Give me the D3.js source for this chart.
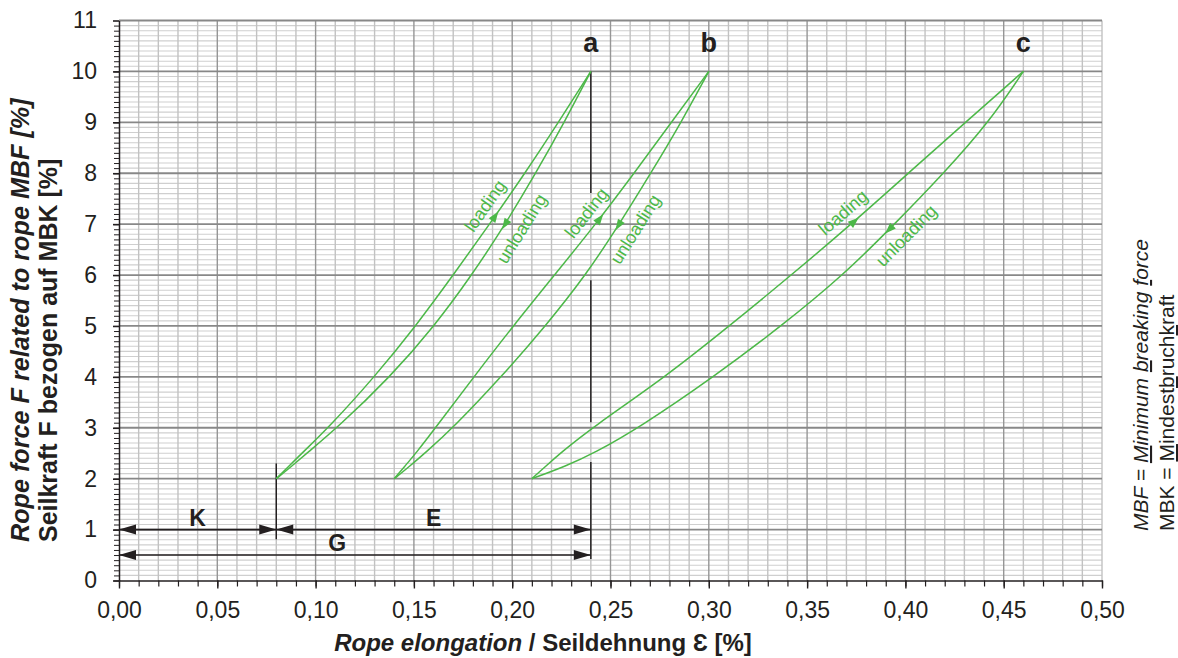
<!DOCTYPE html>
<html>
<head>
<meta charset="utf-8">
<script src="https://cdn.jsdelivr.net/npm/d3@7"></script>
<style>
  body { margin: 0; background: #fff; }
  svg { display: block; font-family: "Liberation Sans", Arial, Helvetica, sans-serif; }
</style>
</head>
<body>
<div id="chart"><svg></svg></div>
<script>
// force levels (% of MBF) at which the elongation of each curve was read
const forceLevels = [2, 2.25, 2.5, 3, 4, 5, 6, 7, 8, 9, 10];

// rope elongation [%] for each loop
const loadingA   = [0.080, 0.0865, 0.093, 0.1065, 0.130, 0.151, 0.170, 0.1885, 0.2065, 0.2235, 0.240];
const unloadingA = [0.080, 0.088, 0.0955, 0.111, 0.138, 0.1605, 0.1795, 0.1965, 0.212, 0.2265, 0.240];
const loadingB   = [0.140, 0.1455, 0.151, 0.161, 0.1805, 0.2005, 0.2215, 0.2425, 0.262, 0.281, 0.300];
const unloadingB = [0.140, 0.148, 0.1555, 0.170, 0.1945, 0.217, 0.2375, 0.2545, 0.2705, 0.286, 0.300];
const loadingC   = [0.210, 0.2172, 0.2244, 0.2405, 0.278, 0.3105, 0.342, 0.3725, 0.4015, 0.4305, 0.460];
const unloadingC = [0.210, 0.2275, 0.2415, 0.2645, 0.3025, 0.337, 0.3685, 0.3945, 0.4195, 0.4425, 0.460];

const loopNames = ["a", "b", "c"];
const loadArrowF = [7.15, 7.1, 7.05];
const unloadArrowF = [7.0, 6.98, 6.9];
const loadLabelF = [7.2, 7.05, 7.02];
const unloadLabelF = [7.08, 7.07, 7.0];

// dimension arrows K / E / G
const dimNames = ["K", "E", "G"];
const dimFrom = [0, 0.08, 0];
const dimTo = [0.08, 0.24, 0.24];
const dimLevel = [1, 1, 0.5];
const dimLabelX = [0.04, 0.16, 0.111];

// reference lines
const refLineA = [[0.42, 2.33], [3.11, 5.9], [7.61, 10]]; // at x = 0.24, with gaps
const refLineK = [[0.81, 2.3]];                           // at x = 0.08

const xTicks = d3.range(0, 0.501, 0.05);
const yTicks = d3.range(0, 12, 1);

const W = 1178, H = 658;
const svg = d3.select("#chart > svg").attr("width", W).attr("height", H);

const x = d3.scaleLinear().domain([0, 0.5]).range([119, 1102]);
const y = d3.scaleLinear().domain([0, 11]).range([580.5, 20.5]);

const green = "#4cb848";
const ink = "#231f20";

// grid
const grid = svg.append("g");
grid.selectAll(".hminor")
  .data(d3.range(0, 111).filter(i => i % 10 !== 0).map(i => i / 10))
  .join("line")
  .attr("x1", x(0)).attr("x2", x(0.5))
  .attr("y1", d => y(d)).attr("y2", d => y(d))
  .attr("stroke", "#cfcfcf").attr("stroke-width", 1.1);

grid.selectAll(".vminor")
  .data(d3.range(1, 51).map(i => ({ v: i / 100, major: i % 5 === 0 && i < 50 })))
  .join("line")
  .attr("x1", d => x(d.v)).attr("x2", d => x(d.v))
  .attr("y1", y(0)).attr("y2", y(11))
  .attr("stroke", d => d.major ? "#969696" : "#c2c2c2")
  .attr("stroke-width", 1.4);

grid.selectAll(".hmajor")
  .data(d3.range(1, 12))
  .join("line")
  .attr("x1", x(0)).attr("x2", x(0.5))
  .attr("y1", d => y(d)).attr("y2", d => y(d))
  .attr("stroke", "#888").attr("stroke-width", 1.8);

// axes
const fmt = d => d3.format(".2f")(d).replace(".", ",");

svg.append("g")
  .attr("transform", `translate(0,${y(0)})`)
  .call(d3.axisBottom(x).tickValues(d3.range(0, 0.501, 0.01)).tickFormat("").tickSize(6).tickSizeOuter(0))
  .call(g => g.selectAll("line").attr("stroke", ink).attr("stroke-width", 1.2))
  .call(g => g.select(".domain").attr("stroke", ink).attr("stroke-width", 1.5));

svg.append("g")
  .attr("transform", `translate(0,${y(0)})`)
  .call(d3.axisBottom(x).tickValues(xTicks).tickFormat(fmt).tickSize(8).tickPadding(13).tickSizeOuter(0))
  .call(g => g.select(".domain").remove())
  .call(g => g.selectAll("line").attr("stroke", ink).attr("stroke-width", 1.4))
  .call(g => g.selectAll("text").attr("fill", ink).attr("font-size", 23).attr("font-family", null));

svg.append("g")
  .attr("transform", `translate(${x(0)},0)`)
  .call(d3.axisLeft(y).tickValues(d3.range(0, 110).map(i => i / 10)).tickFormat("").tickSize(5).tickSizeOuter(0))
  .call(g => g.selectAll("line").attr("stroke", ink).attr("stroke-width", 1))
  .call(g => g.select(".domain").attr("stroke", ink).attr("stroke-width", 1.5));

svg.append("g")
  .attr("transform", `translate(${x(0)},0)`)
  .call(d3.axisLeft(y).tickValues(yTicks).tickFormat(d3.format("d")).tickSize(6).tickPadding(16).tickSizeOuter(0))
  .call(g => g.select(".domain").remove())
  .call(g => g.selectAll("line").attr("stroke", ink).attr("stroke-width", 1.6))
  .call(g => g.selectAll("text").attr("fill", ink).attr("font-size", 23).attr("font-family", null));

// reference lines
const refs = svg.append("g").attr("stroke", ink).attr("stroke-width", 1.5);
refLineA.forEach(s => refs.append("line").attr("x1", x(0.24)).attr("x2", x(0.24)).attr("y1", y(s[0])).attr("y2", y(s[1])));
refLineK.forEach(s => refs.append("line").attr("x1", x(0.08)).attr("x2", x(0.08)).attr("y1", y(s[0])).attr("y2", y(s[1])));

// dimension arrows
const headPath = "M0,0L17,-5L17,5Z";
const dims = svg.append("g");
dimNames.forEach((n, i) => {
  const yy = y(dimLevel[i]);
  dims.append("line")
    .attr("x1", x(dimFrom[i])).attr("x2", x(dimTo[i]))
    .attr("y1", yy).attr("y2", yy)
    .attr("stroke", ink).attr("stroke-width", 1.6);
  dims.append("path").attr("d", headPath).attr("fill", ink)
    .attr("transform", `translate(${x(dimFrom[i])},${yy})`);
  dims.append("path").attr("d", headPath).attr("fill", ink)
    .attr("transform", `translate(${x(dimTo[i])},${yy}) rotate(180)`);
  dims.append("text")
    .attr("x", x(dimLabelX[i])).attr("y", yy - 4)
    .attr("text-anchor", "middle")
    .attr("font-size", 23).attr("font-weight", "bold").attr("fill", ink)
    .text(n);
});

// hysteresis loops
const loops = [
  { load: loadingA, unload: unloadingA },
  { load: loadingB, unload: unloadingB },
  { load: loadingC, unload: unloadingC }
];

const line = d3.line()
  .x(d => x(d[0]))
  .y(d => y(d[1]))
  .curve(d3.curveBasis);

const curveG = svg.append("g");

// point + unit tangent (pointing to higher force) on a curve, in pixels
function along(xs, f) {
  const xf = d3.scaleLinear().domain(forceLevels).range(xs);
  const p0 = [x(xf(f - 0.3)), y(f - 0.3)];
  const p1 = [x(xf(f + 0.3)), y(f + 0.3)];
  const dx = p1[0] - p0[0], dy = p1[1] - p0[1];
  const len = Math.hypot(dx, dy);
  return { px: x(xf(f)), py: y(f), tx: dx / len, ty: dy / len };
}

const arrowPath = "M6,0L-5,-4L-5,4Z";

loops.forEach((lp, i) => {
  const ld = d3.zip(lp.load, forceLevels);
  const ud = d3.zip(lp.unload, forceLevels);
  curveG.append("path").datum(ld).attr("d", line)
    .attr("fill", "none").attr("stroke", green).attr("stroke-width", 1.5);
  curveG.append("path").datum(ud).attr("d", line)
    .attr("fill", "none").attr("stroke", green).attr("stroke-width", 1.5);

  // direction arrows
  const a1 = along(lp.load, loadArrowF[i]);
  const ang1 = Math.atan2(a1.ty, a1.tx) * 180 / Math.PI;
  curveG.append("path").attr("d", arrowPath).attr("fill", green)
    .attr("transform", `translate(${a1.px},${a1.py}) rotate(${ang1})`);
  const a2 = along(lp.unload, unloadArrowF[i]);
  const ang2 = Math.atan2(a2.ty, a2.tx) * 180 / Math.PI;
  curveG.append("path").attr("d", arrowPath).attr("fill", green)
    .attr("transform", `translate(${a2.px},${a2.py}) rotate(${ang2 + 180})`);

  // labels parallel to the curves
  const l1 = along(lp.load, loadLabelF[i]);
  const r1 = Math.atan2(l1.ty, l1.tx) * 180 / Math.PI;
  curveG.append("text")
    .attr("transform", `translate(${l1.px + l1.ty * 14},${l1.py - l1.tx * 14}) rotate(${r1})`)
    .attr("text-anchor", "middle").attr("dominant-baseline", "central")
    .attr("font-size", 18).attr("fill", green)
    .text("loading");
  const l2 = along(lp.unload, unloadLabelF[i]);
  const r2 = Math.atan2(l2.ty, l2.tx) * 180 / Math.PI;
  curveG.append("text")
    .attr("transform", `translate(${l2.px - l2.ty * 16.5},${l2.py + l2.tx * 16.5}) rotate(${r2})`)
    .attr("text-anchor", "middle").attr("dominant-baseline", "central")
    .attr("font-size", 18).attr("fill", green)
    .text("unloading");

  // loop letter above the apex
  svg.append("text")
    .attr("x", x(lp.load[lp.load.length - 1]))
    .attr("y", y(10) - 19)
    .attr("text-anchor", "middle")
    .attr("font-size", 27).attr("font-weight", "bold").attr("fill", ink)
    .text(loopNames[i]);
});

// axis titles
const xt = svg.append("text")
  .attr("x", 543).attr("y", 651)
  .attr("text-anchor", "middle")
  .attr("font-size", 24).attr("font-weight", "bold").attr("fill", ink);
xt.append("tspan").attr("font-style", "italic").text("Rope elongation");
xt.append("tspan").text(" / Seildehnung \u0190 [%]");

svg.append("text")
  .attr("transform", "translate(29,542) rotate(-90)")
  .attr("font-size", 25.2).attr("font-weight", "bold").attr("font-style", "italic").attr("fill", ink)
  .text("Rope force F related to rope MBF [%]");
svg.append("text")
  .attr("transform", "translate(57,542) rotate(-90)")
  .attr("font-size", 25).attr("font-weight", "bold").attr("fill", ink)
  .text("Seilkraft F bezogen auf MBK [%]");

// abbreviation note
function noteLine(tx, parts, italic) {
  const t = svg.append("text")
    .attr("transform", `translate(${tx},531) rotate(-90)`)
    .attr("font-size", 21).attr("fill", ink)
    .attr("font-style", italic ? "italic" : null);
  parts.forEach(p => {
    const s = t.append("tspan").text(p[0]);
    if (p[1]) s.style("text-decoration", "underline");
  });
}
noteLine(1148, [["MBF = "], ["M", 1], ["inimum "], ["b", 1], ["reaking "], ["f", 1], ["orce"]], true);
noteLine(1174, [["MBK = "], ["M", 1], ["indest"], ["b", 1], ["ruch"], ["k", 1], ["raft"]], false);
</script>
</body>
</html>
